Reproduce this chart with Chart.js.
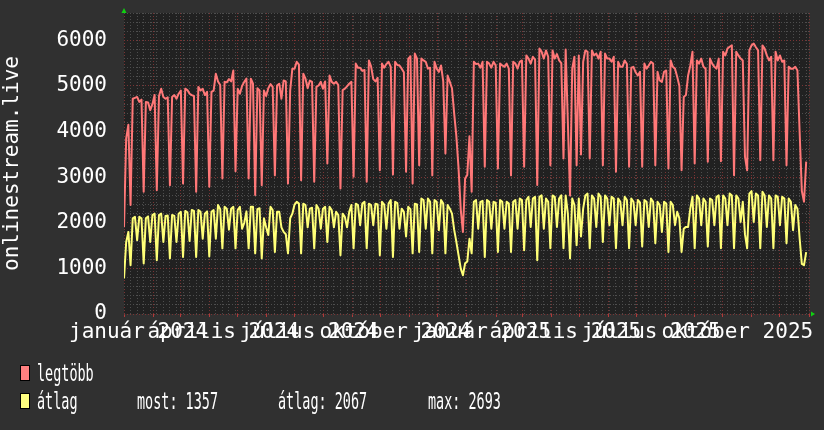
<!DOCTYPE html>
<html>
<head>
<meta charset="utf-8">
<script src="https://cdn.jsdelivr.net/npm/chart.js@4.4.1/dist/chart.umd.min.js"></script>
<style>
  html, body { margin: 0; padding: 0; background: #303030; }
  canvas { display: block; }
</style>
</head>
<body>
<canvas id="chart" width="824" height="430"></canvas>
<script>
// 3 samples per week, starting 2024-01-01
var STEP = 7 / 3;

var legtobb = [
  1900,3850,4150, 2390,4720,4740, 4760,4650,4700, 2680,4650,4640,
  4470,4600,4800, 2715,4780,4940, 4760,4720,4750, 2825,4760,4800,
  4720,4830,4900, 2860,4940,4910, 4830,4800,4780, 2680,4980,4900,
  4940,4800,4870, 2790,4870,4900, 5270,5100,5020, 2970,5090,5080,
  5150,5100,5340, 3130,4940,4830, 5000,5090,5160, 2970,5160,5050,
  2610,4950,4900, 2825,4900,4780, 4950,5040,4980, 3040,5010,5050,
  4720,5120,5100, 2860,4900,5380, 5380,5530,5470, 2935,5270,5160,
  4950,5120,5090, 2900,4980,5010, 5090,4940,5100, 3300,5230,5090,
  5050,5090,5020, 2750,4910,4940, 4990,5050,5090, 3010,5490,5400,
  5400,5330,5350, 2900,5560,5430, 5150,5100,5180, 3150,5490,5400,
  5480,5530,5420, 3060,5530,5460, 5450,5380,5300, 3120,5600,5650,
  2860,5710,5600, 3260,5600,5560, 5530,5380,5400, 3040,5530,5380,
  5310,5450,5100, 3520,5230,5090, 4950,4400,3900, 3200,2300,1800,
  2970,3050,3900, 2680,5530,5480, 5490,5400,5530, 3230,5530,5490,
  5400,5530,5450, 3190,5490,5450, 5420,5490,5380, 3040,5530,5490,
  5380,5530,5560, 3230,5670,5600, 5490,5640,5580, 2830,5820,5750,
  5600,5780,5640, 3260,5780,5600, 5700,5560,5500, 3410,5800,4200,
  2600,5380,5640, 3260,5670,3500, 5530,5780,5750, 3410,5780,5670,
  5710,5600,5750, 3260,5710,5600, 5600,5530,5640, 3120,5530,5420,
  5420,5560,5480, 3230,5400,5420, 5300,5230,5310, 3230,5490,5380,
  5450,5530,5490, 3260,5310,5120, 5090,5310,5340, 3190,5560,5420,
  5380,5200,5000, 3150,4760,4800, 5230,5450,5750, 3300,5560,5490,
  5600,5420,5380, 3340,5600,5490, 5420,5380,5600, 3350,5750,5670,
  5820,5860,5890, 3040,5750,5670, 5600,5560,3450, 3150,5780,5890,
  5930,5850,5780, 3370,5890,5820, 5670,5560,5640, 3370,5750,5560,
  5670,5530,5560, 3260,5420,5380, 5380,5420,5340, 3990,2700,2460,
  3340
];

var atlag = [
  780,1580,1800, 1070,2100,2130, 1620,2130,2100, 1110,2100,2140,
  1580,2170,2200, 1180,2170,2200, 1580,2150,2160, 1220,2170,2150,
  1580,2200,2240, 1250,2260,2230, 1600,2280,2260, 1250,2280,2240,
  1650,2200,2250, 1260,2240,2280, 1650,2390,2300, 1440,2350,2310,
  1850,2310,2350, 1440,2280,2350, 1870,2000,2250, 1440,2350,2350,
  1330,2300,2320, 1220,2100,1900, 1730,2350,2280, 1360,2240,2240,
  1900,1800,1750, 1330,2100,2200, 2400,2460,2420, 1330,2420,2390,
  1900,2310,2330, 1440,2390,2310, 1870,2310,2350, 1580,2350,2280,
  1900,2240,2170, 1290,2200,2130, 1900,2240,2390, 1440,2420,2390,
  1950,2420,2460, 1440,2420,2390, 1950,2420,2400, 1290,2460,2400,
  1870,2420,2500, 1250,2460,2430, 1870,2310,2240, 1700,2350,2300,
  1330,2420,2400, 1360,2530,2500, 1870,2530,2460, 1330,2500,2460,
  1840,2500,2420, 1330,2390,2310, 2200,1850,1580, 1290,1000,850,
  1110,1150,1650, 1330,2460,2500, 1870,2460,2480, 1250,2500,2460,
  1870,2460,2440, 1360,2500,2460, 1870,2460,2420, 1360,2460,2500,
  1870,2530,2500, 1400,2500,2570, 1910,2530,2570, 1180,2570,2600,
  1870,2530,2460, 1440,2600,2570, 1910,2530,2600, 1440,2600,2200,
  1220,2530,2390, 1510,2530,1700, 2310,2600,2640, 1440,2600,2530,
  1910,2640,2570, 1580,2600,2530, 1950,2570,2530, 1440,2530,2460,
  1950,2570,2500, 1440,2530,2460, 1950,2500,2440, 1480,2500,2460,
  1910,2530,2460, 1550,2460,2390, 1800,2460,2420, 1360,2460,2390,
  1950,2240,2100, 1360,1870,1910, 1910,2310,2570, 1440,2600,2530,
  1950,2530,2460, 1480,2530,2500, 1950,2570,2600, 1440,2600,2530,
  1950,2640,2600, 1440,2600,2530, 2020,2460,1750, 1440,2640,2693,
  2020,2640,2600, 1440,2680,2600, 1910,2600,2530, 1440,2600,2570,
  1950,2570,2530, 1550,2530,2460, 1840,2390,2310, 1660,1100,1070,
  1357
];

var quarterLabels = ['január 2024', 'április 2024', 'július 2024', 'október 2024',
                     'január 2025', 'április 2025', 'július 2025', 'október 2025'];
var yTickValues = [0,200,400,600,800,1000,1200,1400,1600,1800,2000,2200,2400,2600,2800,3000,3200,
                   3400,3600,3800,4000,4200,4400,4600,4800,5000,5200,5400,5600,5800,6000,6200,6400,6600];
var most = 1357, atlagErtek = 2067, maxErtek = 2693;

var MAJOR = '#7a3434';
var MINOR = '#4e4e4e';
var NONE = 'rgba(0,0,0,0)';

function dayOf(y, m, d) {
  return (Date.UTC(y, m, d) - Date.UTC(2024, 0, 1)) / 864e5;
}

function toPoints(arr) {
  return arr.map(function (v, i) { return { x: i * STEP, y: v }; });
}

function buildXTicks() {
  var t = [];
  var months = {};
  for (var k = 0; k <= 24; k++) {
    var v = dayOf(2024, k, 1);
    months[v] = true;
    t.push({ value: v, kind: 'month' });
  }
  for (var w = 0; w * 7 <= dayOf(2026, 0, 1); w++) {
    if (!months[w * 7]) t.push({ value: w * 7, kind: 'week' });
  }
  quarterLabels.forEach(function (txt, i) {
    var y = 2024 + Math.floor(i / 4), m = (i % 4) * 3;
    t.push({ value: (dayOf(y, m, 1) + dayOf(y, m + 1, 1)) / 2, kind: 'label', txt: txt });
  });
  t.sort(function (a, b) { return a.value - b.value; });
  return t;
}

var background = {
  id: 'background',
  beforeDraw: function (chart) {
    var ctx = chart.ctx, a = chart.chartArea;
    ctx.save();
    ctx.fillStyle = '#303030';
    ctx.fillRect(0, 0, chart.width, chart.height);
    ctx.fillStyle = '#212121';
    ctx.fillRect(a.left, a.top, a.right - a.left, a.bottom - a.top);
    ctx.restore();
  }
};

function squeezedText(ctx, txt, x, y) {
  ctx.save();
  ctx.translate(x, y);
  ctx.scale(0.585, 1);
  ctx.fillText(txt, 0, 0);
  ctx.restore();
}

var rrdLegend = {
  id: 'rrdLegend',
  afterDraw: function (chart) {
    var ctx = chart.ctx, a = chart.chartArea;
    ctx.save();
    // axis arrows
    ctx.fillStyle = '#10d010';
    ctx.beginPath();
    ctx.moveTo(a.left - 2.5, a.top);
    ctx.lineTo(a.left + 2.5, a.top);
    ctx.lineTo(a.left, a.top - 5);
    ctx.closePath();
    ctx.fill();
    ctx.beginPath();
    ctx.moveTo(a.right + 2, a.bottom - 2.5);
    ctx.lineTo(a.right + 2, a.bottom + 2.5);
    ctx.lineTo(a.right + 6, a.bottom);
    ctx.closePath();
    ctx.fill();

    // legend boxes
    ctx.lineWidth = 1;
    ctx.strokeStyle = '#000';
    ctx.fillStyle = '#ff8080';
    ctx.fillRect(20, 365, 10, 16);
    ctx.strokeRect(20.5, 365.5, 9, 15);
    ctx.fillStyle = '#ffff80';
    ctx.fillRect(20, 393, 10, 16);
    ctx.strokeRect(20.5, 393.5, 9, 15);

    ctx.fillStyle = '#ffffff';
    ctx.font = '23px "DejaVu Sans Mono"';
    ctx.textBaseline = 'alphabetic';
    squeezedText(ctx, 'legtöbb', 37, 381);
    squeezedText(ctx, 'átlag', 37, 409);
    squeezedText(ctx, 'most: ' + most, 137, 409);
    squeezedText(ctx, 'átlag: ' + atlagErtek, 278, 409);
    squeezedText(ctx, 'max: ' + maxErtek, 428, 409);
    ctx.restore();
  }
};

Chart.defaults.font.family = '"DejaVu Sans Mono"';
Chart.defaults.color = '#ffffff';

new Chart(document.getElementById('chart'), {
  type: 'line',
  data: {
    datasets: [
      {
        label: 'legtöbb',
        data: toPoints(legtobb),
        borderColor: '#ff7878',
        borderWidth: 2,
        borderJoinStyle: 'round',
        pointRadius: 0,
        tension: 0,
        fill: false
      },
      {
        label: 'átlag',
        data: toPoints(atlag),
        borderColor: '#ffff78',
        borderWidth: 2,
        borderJoinStyle: 'round',
        pointRadius: 0,
        tension: 0,
        fill: false
      }
    ]
  },
  options: {
    responsive: false,
    animation: false,
    events: [],
    parsing: false,
    layout: { padding: { left: 0, right: 15, top: 13, bottom: 76 } },
    plugins: { legend: { display: false }, tooltip: { enabled: false } },
    scales: {
      x: {
        type: 'linear',
        min: 0,
        max: dayOf(2026, 0, 1),
        afterBuildTicks: function (scale) { scale.ticks = buildXTicks(); },
        afterFit: function (scale) { scale.height = 40; },
        border: { display: false, dash: [1, 2] },
        grid: {
          lineWidth: 1,
          color: function (c) {
            var k = c.tick && c.tick.kind;
            return k === 'month' ? MAJOR : (k === 'week' ? MINOR : NONE);
          },
          drawTicks: true,
          tickLength: 3,
          tickBorderDash: [],
          tickColor: function (c) {
            return c.tick && c.tick.kind === 'month' ? '#b03a3a' : NONE;
          }
        },
        ticks: {
          autoSkip: false,
          maxRotation: 0,
          minRotation: 0,
          padding: 3,
          color: '#ffffff',
          font: { size: 21 },
          callback: function (v, i, ticks) { return ticks[i].txt || ''; }
        }
      },
      y: {
        type: 'linear',
        min: 0,
        max: 6600,
        afterBuildTicks: function (scale) {
          scale.ticks = yTickValues.map(function (v) { return { value: v }; });
        },
        afterFit: function (scale) { scale.width = 124; },
        border: { display: false, dash: [1, 2] },
        grid: {
          lineWidth: 1,
          drawTicks: true,
          tickLength: 17,
          tickColor: NONE,
          color: function (c) {
            return c.tick && c.tick.value % 1000 === 0 ? MAJOR : MINOR;
          }
        },
        ticks: {
          autoSkip: false,
          padding: 0,
          color: '#ffffff',
          font: { size: 21 },
          callback: function (v) { return v % 1000 === 0 ? String(v) : ''; }
        },
        title: {
          display: true,
          text: 'onlinestream.live',
          color: '#ffffff',
          font: { size: 21 },
          padding: { top: 0, bottom: 0 }
        }
      }
    }
  },
  plugins: [background, rrdLegend]
});
</script>
</body>
</html>
